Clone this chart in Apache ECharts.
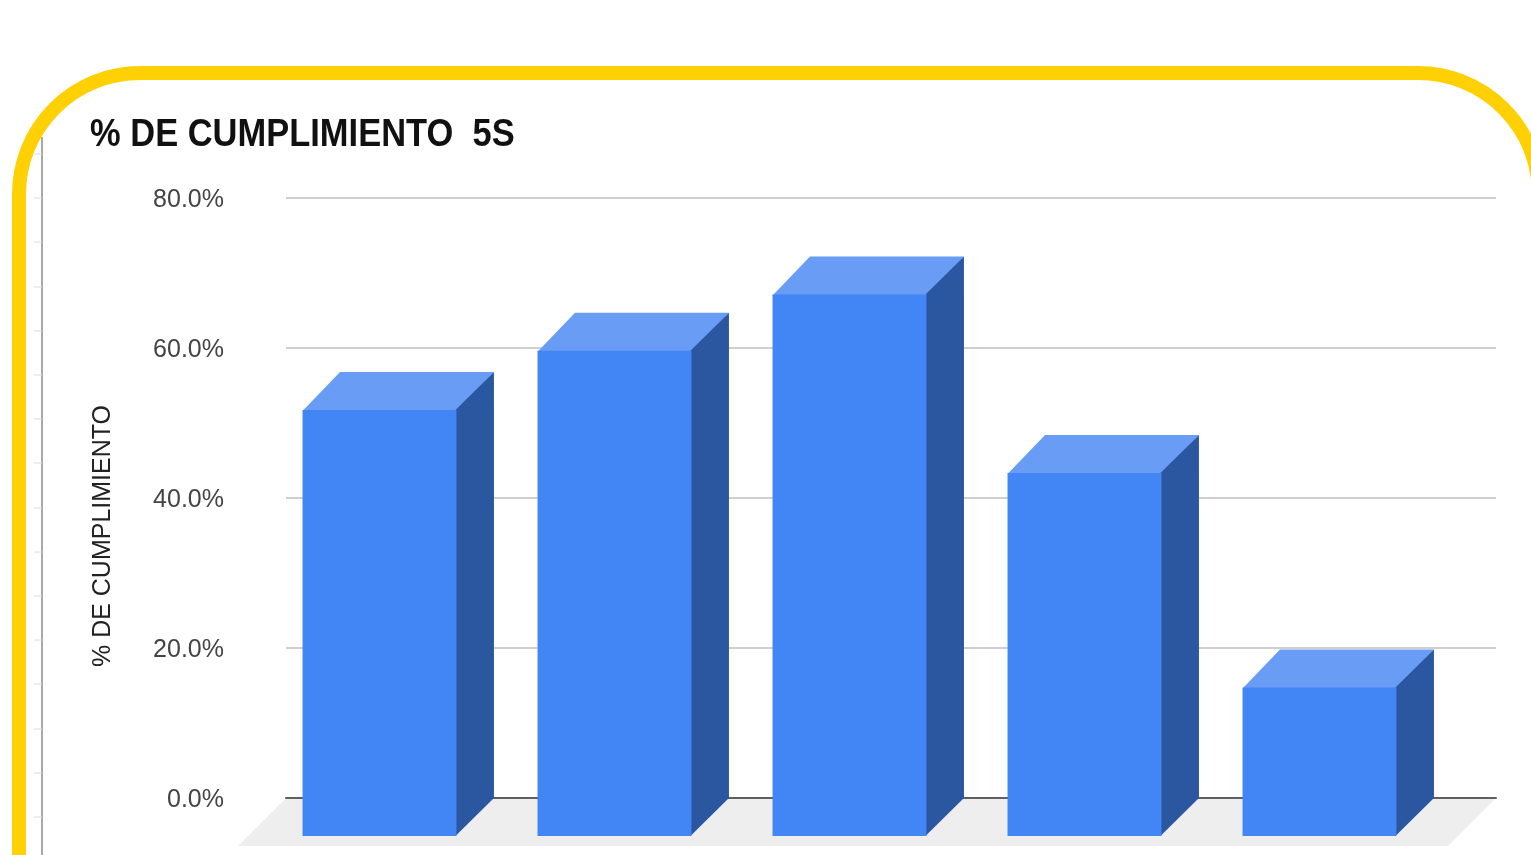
<!DOCTYPE html>
<html>
<head>
<meta charset="utf-8">
<style>html,body{margin:0;padding:0;background:#fff}#c{width:1531px;height:855px}</style>
<script src="https://cdn.jsdelivr.net/npm/echarts@6/dist/echarts.min.js"></script>
</head>
<body>
<div id="c"></div>
<script>
const categories = ["Seiri", "Seiton", "Seiso", "Seiketsu", "Shitsuke"];
const cumplimiento = [56.8, 64.7, 72.2, 48.4, 19.8];
const yTicks = [0, 20, 40, 60, 80];
const titleText = "% DE CUMPLIMIENTO  5S";
const yAxisName = "% DE CUMPLIMIENTO";

const FONT = '"Liberation Sans", Arial, sans-serif';
const DEPTH_X = 37.5, DEPTH_Y = 38, FLOOR = 48;

const chart = echarts.init(document.getElementById('c'), null, {renderer: 'canvas'});

const rulerTicks = [];
for (let i = 0; i < 16; i++) {
  const y = Math.round(154 + i * 44.2);
  rulerTicks.push({type: 'line', shape: {x1: 34, y1: y, x2: 42, y2: y},
    style: {stroke: '#dcdcdc', lineWidth: 1}, silent: true});
}

chart.setOption({
  animation: false,
  backgroundColor: '#ffffff',
  grid: [
    {left: 286, top: 198, width: 1210, height: 600},
    {left: 299.5, top: 198, width: 1175, height: 600}
  ],
  xAxis: [
    {gridIndex: 0, type: 'category', data: categories, z: 1,
     axisLine: {show: true, lineStyle: {color: '#5f5f5f', width: 2}},
     axisTick: {show: false}, axisLabel: {show: false}},
    {gridIndex: 1, type: 'category', data: categories, show: false}
  ],
  yAxis: [
    {gridIndex: 0, type: 'value', min: yTicks[0], max: yTicks[yTicks.length - 1], interval: 20, z: 1,
     name: yAxisName, nameLocation: 'middle', nameGap: 170,
     nameTextStyle: {fontFamily: FONT, fontSize: 25, color: '#222222', padding: [0, 76, 0, 0]},
     axisLine: {show: false}, axisTick: {show: false},
     axisLabel: {margin: 62,
       formatter: v => '{a|' + v.toFixed(1) + '%}',
       rich: {a: {fontFamily: FONT, fontSize: 25, color: '#444444', padding: [4, 0, 0, 0]}}},
     splitLine: {lineStyle: {color: '#cfcfcf', width: 2}}},
    {gridIndex: 1, type: 'value', min: yTicks[0], max: yTicks[yTicks.length - 1], show: false}
  ],
  graphic: [
    {type: 'line', shape: {x1: 42, y1: 137, x2: 42, y2: 855},
     style: {stroke: '#a8a8a8', lineWidth: 2}, silent: true},
    ...rulerTicks,
    {type: 'rect', shape: {x: 19, y: 73, width: 1520, height: 900, r: 121},
     style: {fill: 'transparent', stroke: '#ffd105', lineWidth: 14}, silent: true},
    {type: 'text', x: 90, y: 155, scaleX: 0.884, silent: true,
     style: {text: titleText, fill: '#111111', textVerticalAlign: 'bottom', verticalAlign: 'alphabetic',
       font: 'bold 39px ' + FONT}}
  ],
  series: [
    {
      type: 'custom', z: 0, xAxisIndex: 0, yAxisIndex: 0, silent: true,
      data: [0],
      renderItem: (params) => {
        const g = params.coordSys;
        const y0 = g.y + g.height, x0 = g.x, x1 = g.x + g.width;
        return {type: 'polygon', shape: {points: [
          [x0, y0], [x1, y0], [x1 - FLOOR, y0 + FLOOR], [x0 - FLOOR, y0 + FLOOR]
        ]}, style: {fill: '#eeeeef'}};
      }
    },
    {
      type: 'custom', z: 2, xAxisIndex: 1, yAxisIndex: 1,
      encode: {x: 0, y: 1},
      data: categories.map((c, i) => [i, cumplimiento[i]]),
      renderItem: (params, api) => {
        const top = api.coord([api.value(0), api.value(1)]);
        const base = api.coord([api.value(0), 0]);
        const w = api.size([1, 0])[0] * 0.655;
        const xr = top[0] + w / 2 - DEPTH_X;
        const xl = xr - w;
        const yt = top[1] + DEPTH_Y, yb = base[1] + DEPTH_Y;
        return {type: 'group', children: [
          {type: 'polygon', shape: {points: [[xl, yt + 1], [xr, yt + 1], [xr + DEPTH_X, yt - DEPTH_Y], [xl + DEPTH_X, yt - DEPTH_Y]]},
           style: {fill: '#689cf5'}},
          {type: 'polygon', shape: {points: [[xr - 1, yt], [xr + DEPTH_X, yt - DEPTH_Y], [xr + DEPTH_X, yb - DEPTH_Y], [xr - 1, yb]]},
           style: {fill: '#2b57a1'}},
          {type: 'polygon', shape: {points: [[xl, yt], [xr, yt], [xr, yb], [xl, yb]]}, style: {fill: '#4285f4'}}
        ]};
      }
    }
  ]
});
</script>
</body>
</html>
